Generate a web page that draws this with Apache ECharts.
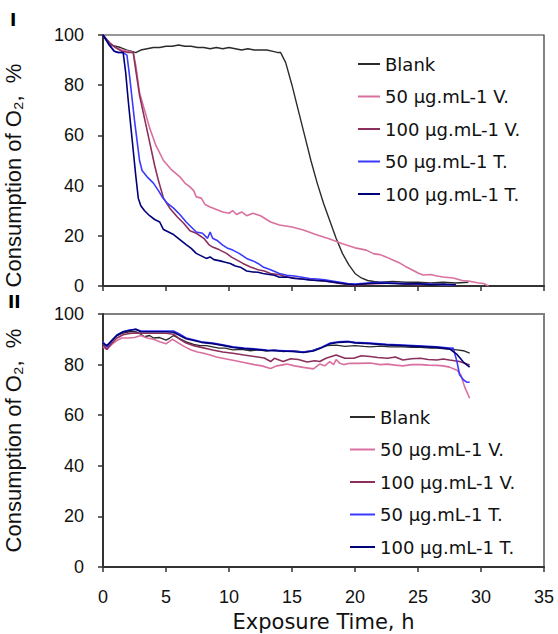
<!DOCTYPE html>
<html>
<head>
<meta charset="utf-8">
<script src="https://cdn.jsdelivr.net/npm/echarts@6/dist/echarts.min.js"></script>
<style>
html,body{margin:0;padding:0;background:#fff;}
#chart{width:558px;height:634px;}
</style>
</head>
<body>
<div id="chart"></div>
<script>
// ---------- DATA ----------
const seriesNames = ['Blank', '50 µg.mL-1 V.', '100 µg.mL-1 V.', '50 µg.mL-1 T.', '100 µg.mL-1 T.'];
const panelLabels = ['I', 'II'];
const xTicks = [0, 5, 10, 15, 20, 25, 30, 35];
const yTicks = [0, 20, 40, 60, 80, 100];

// Panel I
const topBlankX = [0, 0.3, 0.6, 1, 1.4, 1.9, 2.3, 2.6, 3, 3.5, 4, 4.5, 5, 5.5, 6, 6.5, 7, 7.5, 8, 8.5, 9, 9.5, 10, 10.5, 11, 11.5, 12, 12.5, 13, 13.5, 13.9, 14.1, 14.5, 15, 15.5, 16, 16.5, 17, 17.5, 18, 18.5, 19, 19.5, 20, 20.5, 21, 21.5, 22, 23, 24, 25, 26, 27, 28, 29];
const topBlankY = [100, 98, 96, 95.5, 95, 94, 93.5, 93, 94, 94.5, 95, 95, 95.5, 95.5, 96, 95.5, 95.5, 95, 95, 94.5, 95, 94.5, 95, 94.5, 94, 94.5, 94, 94, 94, 93.5, 93, 93, 89, 80, 70, 60, 50, 41, 33, 26, 19, 13, 8.5, 5, 3.2, 2.2, 1.8, 1.5, 1.8, 1.5, 1.5, 1.2, 1.5, 1.2, 1.5];

const top50VX = [0, 0.5, 1, 1.5, 2, 2.4, 2.6, 2.9, 3.3, 3.7, 4.2, 4.8, 5.4, 6.1, 6.5, 6.9, 7.2, 7.4, 7.8, 8.1, 8.5, 9.0, 9.5, 10.0, 10.3, 10.6, 11.0, 11.4, 11.9, 12.5, 13.3, 14, 15, 15.9, 17, 18, 19, 20, 20.9, 21.5, 22, 22.5, 23, 23.5, 24, 24.4, 25, 25.4, 26, 26.5, 27, 27.8, 28.5, 29, 29.7, 30.2, 30.6];
const top50VY = [100, 97, 95, 94, 93.5, 93, 88, 77, 70, 63, 56, 50, 46.5, 43.5, 41, 39.5, 38, 35.5, 35, 32.5, 31.5, 30.5, 29.5, 29, 30, 28.5, 29.5, 28, 29, 28, 25.5, 24.3, 23.5, 22.3, 20.3, 18.7, 16.8, 15.2, 14.3, 12.8, 12.5, 11.5, 10.4, 9.3, 7.8, 6.8, 5.2, 4.4, 4.6, 4, 3.6, 3.2, 2.2, 2, 1.3, 1.0, 0];

const top100VX = [0, 0.5, 1, 1.5, 2, 2.4, 2.6, 2.9, 3.2, 3.5, 3.8, 4.1, 4.4, 4.8, 5.3, 5.9, 6.4, 6.9, 7.4, 8.0, 8.4, 8.7, 9.2, 9.8, 10.2, 10.6, 11.1, 11.7, 12.3, 12.8, 13.3, 14.0, 14.6, 15.2, 15.8, 16.4, 17, 17.6, 18.2, 18.8, 19.4, 20, 21, 22, 23, 24, 25, 26, 27, 28];
const top100VY = [100, 97, 95, 93.5, 93, 93, 86, 76, 69, 62, 55, 48, 42, 35, 31, 27.5, 25, 22, 21, 19, 16.5, 15.5, 14.5, 13, 11.5, 10.4, 9, 7.6, 6.5, 6, 5, 4.5, 3.6, 3.2, 2.8, 2.5, 2.2, 2, 1.5, 1, 0.6, 0.3, 0.8, 1, 1.2, 0.8, 0.5, 0.8, 0.5, 0.5];

const top50TX = [0, 0.5, 0.9, 1.2, 1.6, 1.9, 2.1, 2.3, 2.5, 2.7, 2.9, 3.1, 3.5, 4.0, 4.4, 4.7, 5.1, 5.6, 6.1, 6.6, 7.0, 7.4, 7.9, 8.3, 8.5, 8.7, 9.1, 9.5, 9.9, 10.3, 10.8, 11.4, 11.9, 12.3, 12.7, 13.3, 14.0, 14.6, 15.2, 15.8, 16.4, 17, 17.6, 18.2, 18.8, 19.4, 20, 21, 22, 23, 24, 25, 26, 27, 28];
const top50TY = [100, 96, 93.5, 93, 93, 92, 84, 75, 66, 58, 50, 46, 43.5, 41, 38, 35.5, 33, 31, 28.5, 25.5, 23.5, 21.5, 21, 19, 21.5, 19, 18, 16.3, 15, 14.3, 13, 11, 10, 9, 7.6, 6.5, 5, 4.3, 4, 3.5, 3, 2.8, 2.5, 2, 1.5, 1, 0.8, 1.2, 1.5, 1.2, 1, 0.8, 0.8, 0.5, 0.5];

const top100TX = [0, 0.5, 0.9, 1.2, 1.6, 1.8, 2.0, 2.2, 2.4, 2.6, 2.8, 3.0, 3.3, 3.7, 4.1, 4.5, 4.8, 5.2, 5.6, 6.1, 6.6, 7.0, 7.4, 7.8, 8.2, 8.5, 8.8, 9.3, 9.7, 10.1, 10.5, 10.9, 11.4, 11.9, 12.3, 12.7, 13.2, 13.6, 14.0, 14.6, 15.2, 15.8, 16.4, 17, 17.6, 18.2, 18.8, 19.4, 20, 21, 22, 23, 24, 25, 26, 27, 28];
const top100TY = [100, 96, 93.5, 93, 93, 85, 74, 64, 54, 44, 35, 32, 30, 28, 26.5, 25.5, 22.5, 21.5, 20.5, 18.5, 16.5, 15, 13, 12, 11, 11.6, 10.5, 10, 9.5, 9, 8, 7.5, 6, 5.6, 5.5, 5, 4.6, 4.3, 3.5, 3.6, 3, 2.8, 2.4, 2.2, 2, 1.6, 1.2, 0.8, 0.5, 1, 1.2, 1, 0.8, 1, 0.5, 0.8, 0.5];

// Panel II
const botBlankX = [0, 0.3, 0.7, 1.1, 1.6, 2.1, 2.6, 3.0, 3.3, 3.7, 4.0, 4.5, 5.0, 5.3, 5.6, 6.0, 6.6, 7.2, 7.7, 8.2, 8.7, 9.2, 9.7, 10.3, 11, 11.7, 12.3, 13, 13.6, 14.3, 15, 15.9, 16.5, 17.2, 17.8, 18.5, 19.2, 20, 20.7, 21.2, 22, 22.8, 23.8, 24.5, 25.2, 26, 26.5, 27.2, 28.1, 28.6, 29.1];
const botBlankY = [88.5, 87, 89.5, 91.5, 92.5, 93, 93, 92, 91, 91.5, 90.5, 90.7, 89.7, 90.5, 91.5, 90.5, 89, 88, 87.5, 87.5, 87, 86.5, 86.5, 85.8, 86, 85.5, 85.8, 85.4, 85.8, 85.2, 85.5, 85, 85.4, 86.5, 87.5, 87.7, 87.2, 87.5, 87.2, 87, 87.3, 87, 87, 86.8, 86.8, 86.5, 86.5, 86.2, 85.8, 85.5, 84.5];

const bot50VX = [0, 0.3, 0.7, 1.1, 1.5, 2, 2.5, 3, 3.5, 4, 4.5, 5, 5.5, 6, 6.5, 7, 7.5, 8, 8.5, 9, 9.5, 10, 11, 12, 12.6, 13.3, 13.8, 14.6, 15.2, 15.9, 16.7, 17.2, 17.6, 18, 18.3, 18.5, 18.8, 19.1, 19.6, 20.2, 21.2, 22, 22.6, 23.2, 23.8, 24.5, 25.2, 25.8, 26.5, 27, 27.5, 28.1, 28.4, 28.7, 29.1];
const bot50VY = [87, 86, 88, 89.5, 90.5, 90.5, 90.7, 91.5, 90.5, 90, 89, 88.2, 90, 88.5, 87, 85.8, 85, 84.5, 83.8, 83, 82.5, 82, 81, 80, 79.5, 78.5, 79.5, 80.2, 79.5, 78.9, 78.3, 80.2, 79.5, 81.2, 80, 82, 80.5, 80, 80.5, 80.5, 80.6, 80, 80.2, 79.8, 79.5, 80, 80, 79.8, 79.7, 79.5, 79, 77.8, 76, 71.2, 66.7];

const bot100VX = [0, 0.3, 0.7, 1.1, 1.6, 2.1, 2.6, 3.2, 4, 5, 5.6, 6.1, 6.6, 7.2, 7.8, 8.7, 9.5, 10.3, 11.2, 12, 12.8, 13.3, 13.6, 14.3, 14.9, 15.5, 16.2, 16.8, 17.2, 17.7, 18.5, 19.2, 19.9, 20.5, 21.2, 21.8, 22.6, 23.2, 23.8, 24.5, 25.2, 25.8, 26.5, 27.0, 27.5, 28.3, 28.7, 29.1];
const bot100VY = [88, 86, 88.5, 90.5, 91.8, 92.3, 92.5, 92.4, 92.4, 92.4, 92, 90, 88.5, 87.5, 86.8, 85.8, 85, 84.5, 83.8, 83.2, 82.6, 81.2, 82.5, 81.2, 82.3, 82, 81, 81.5, 81.2, 82.5, 83.8, 82.5, 82.5, 83.5, 83.2, 82.8, 82.5, 83, 81.8, 82.3, 82.5, 82, 81.8, 82.2, 81.8, 81.2, 80.5, 79.8];

const bot50TX = [0, 0.3, 0.7, 1.1, 1.6, 2.1, 2.6, 3, 4, 5, 5.6, 6.1, 6.6, 7.2, 7.8, 8.7, 9.5, 10.3, 11.2, 12, 13, 14, 15, 15.9, 16.7, 17.4, 18, 18.7, 19.4, 20, 21.2, 22.5, 23.8, 25, 26.5, 27.5, 27.8, 28.1, 28.3, 28.6, 28.9, 29.1];
const bot50TY = [89, 87, 89.5, 91.7, 93, 93.7, 94, 93.3, 93.3, 93.3, 93.3, 92, 90.5, 89.8, 89, 88.5, 87.8, 87, 86.5, 86.2, 85.8, 85.6, 85.4, 85, 85.6, 87, 88.5, 89, 89.2, 88.8, 88.5, 88, 87.7, 87.4, 87, 86.5, 86.5, 81, 76, 74, 73, 73];

const bot100TX = [0, 0.3, 0.7, 1.1, 1.6, 2.1, 2.6, 3, 4, 5, 5.6, 6.1, 6.6, 7.2, 7.8, 8.7, 9.5, 10.3, 11.2, 12, 13, 14, 15, 15.9, 16.7, 17.4, 18, 18.7, 19.4, 20, 21.2, 22.5, 23.8, 25, 26.5, 27.5, 28.1, 28.6, 29.1];
const bot100TY = [88.5, 87.5, 89.5, 91.5, 93, 93.5, 94, 93, 93, 93, 92.8, 91.5, 90.2, 89.5, 88.8, 88.3, 87.6, 86.8, 86.3, 86, 85.6, 85.4, 85.2, 84.8, 85.4, 86.8, 88.2, 88.8, 89, 88.6, 88.3, 87.8, 87.5, 87.2, 86.8, 86.2, 84, 81, 79];

// ---------- CHART ----------
const colors = ['#2b2b2b', '#d9709f', '#8c2f5c', '#3a3aff', '#00007a'];
const FONT = '"Liberation Sans", Arial, sans-serif';
const FONT2 = '"DejaVu Sans", sans-serif';

function zip(xs, ys) { return xs.map((x, i) => [x, ys[i]]); }
function mk(idx, xs, ys, panel) {
  return {
    name: seriesNames[idx], type: 'line', xAxisIndex: panel, yAxisIndex: panel,
    data: zip(xs, ys), showSymbol: false, symbol: 'none', smooth: false,
    lineStyle: { color: colors[idx], width: idx === 0 ? 1.4 : 1.6 },
    itemStyle: { color: colors[idx] }, z: 2 + idx
  };
}

function xAx(gi, showLabels) {
  return {
    type: 'value', gridIndex: gi, min: xTicks[0], max: xTicks[xTicks.length - 1], interval: 5,
    axisLine: { show: true, onZero: false, lineStyle: { color: '#333', width: 2 } },
    axisTick: { show: true, inside: false, length: 5, lineStyle: { color: '#333', width: 1.5 } },
    axisLabel: { show: showLabels, fontSize: 18, color: '#111', fontFamily: FONT, margin: 21 },
    splitLine: { show: false },
    name: showLabels ? 'Exposure Time, h' : '', nameLocation: 'middle', nameGap: 44,
    nameTextStyle: { fontSize: 21, color: '#111', fontFamily: FONT2 }
  };
}
function yAx(gi, shift) {
  return {
    type: 'value', gridIndex: gi, min: yTicks[0], max: yTicks[yTicks.length - 1], interval: 20,
    axisLine: { show: true, onZero: false, lineStyle: { color: '#333', width: 2 } },
    axisTick: { show: true, inside: false, length: 5, lineStyle: { color: '#333', width: 1.5 } },
    axisLabel: { fontSize: 18, color: '#111', fontFamily: FONT, margin: 19 },
    splitLine: { show: false },
    name: 'Consumption of O\u2082,  %', nameLocation: 'middle', nameGap: 79, nameRotate: 90,
    nameTextStyle: { fontSize: 22, color: '#111', fontFamily: FONT, padding: [0, shift, 0, 0] }
  };
}

const option = {
  animation: false,
  backgroundColor: '#fff',
  textStyle: { fontFamily: FONT },
  graphic: [
    { type: 'text', x: 10, y: 11,
      style: { text: panelLabels[0], fontSize: 17, fontWeight: 'bold', fontFamily: FONT2, fill: '#000', align: 'left', verticalAlign: 'top' } },
    { type: 'text', x: 8, y: 293,
      style: { text: panelLabels[1], fontSize: 17, fontWeight: 'bold', fontFamily: FONT2, fill: '#000', align: 'left', verticalAlign: 'top' } }
  ],
  grid: [
    { left: 103, top: 35, width: 441, height: 251, show: true, borderColor: '#333', borderWidth: 1.2, outerBoundsMode: 'none', containLabel: false },
    { left: 103, top: 314, width: 441, height: 253, show: true, borderColor: '#808080', borderWidth: 2, outerBoundsMode: 'none', containLabel: false }
  ],
  xAxis: [xAx(0, false), xAx(1, true)],
  yAxis: [yAx(0, 30), yAx(1, 0)],
  legend: [
    {
      data: seriesNames, orient: 'vertical', left: 358, top: 55, padding: 0, itemWidth: 22, itemHeight: 2,
      icon: 'rect', itemGap: 14.5, itemTextGap: 3, selectedMode: false,
      textStyle: { fontSize: 18, lineHeight: 18, color: '#111', fontFamily: FONT2 }
    },
    {
      data: seriesNames, orient: 'vertical', left: 350, top: 408, padding: 0, itemWidth: 25, itemHeight: 2,
      icon: 'rect', itemGap: 14.5, itemTextGap: 2, selectedMode: false,
      textStyle: { fontSize: 18, lineHeight: 18, color: '#111', fontFamily: FONT2 }
    }
  ],
  series: [
    mk(0, topBlankX, topBlankY, 0),
    mk(1, top50VX, top50VY, 0),
    mk(2, top100VX, top100VY, 0),
    mk(3, top50TX, top50TY, 0),
    mk(4, top100TX, top100TY, 0),
    mk(0, botBlankX, botBlankY, 1),
    mk(1, bot50VX, bot50VY, 1),
    mk(2, bot100VX, bot100VY, 1),
    mk(3, bot50TX, bot50TY, 1),
    mk(4, bot100TX, bot100TY, 1)
  ]
};

const chart = echarts.init(document.getElementById('chart'), null, { renderer: 'svg' });
chart.setOption(option);
</script>
</body>
</html>
